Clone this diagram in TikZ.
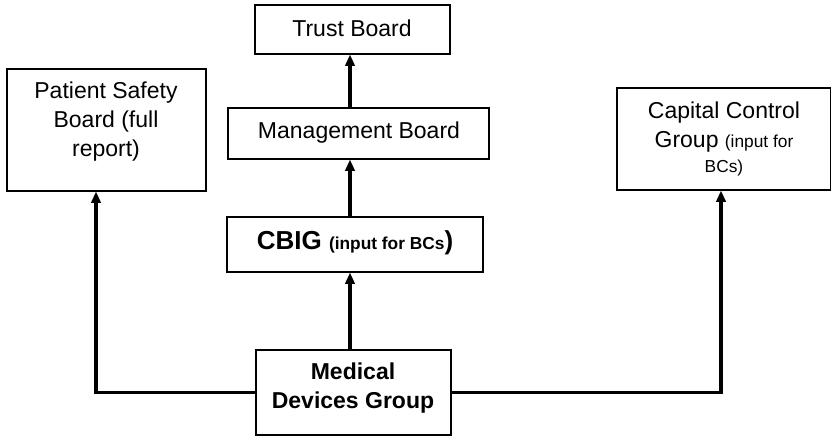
\documentclass[tikz,border=0pt]{standalone}
\usepackage{fontspec}
\setmainfont{Liberation Sans}
\usetikzlibrary{arrows.meta,fit}
\begin{document}
\begin{tikzpicture}[x=0.75pt,y=-0.75pt,
  box/.style={draw, line width=0.8pt, inner sep=0pt},
  link/.style={line width=2.5pt},
  arr/.style={link, -{Triangle[length=8.5pt,width=7pt]}},
  txt/.style={align=center, inner sep=0pt, font=\fontsize{17.25}{21.5}\selectfont}]
\useasboundingbox (0,0) rectangle (832,436);

% boxes
\node[box, fit={(255,5) (450,54)}] (trust) {};
\node[box, fit={(228,108) (489,159)}] (mgmt) {};
\node[box, fit={(227,217) (483,272)}] (cbig) {};
\node[box, fit={(256,350) (451,435)}] (mdg) {};
\node[box, fit={(7,69) (206,191)}] (psb) {};
\node[box, fit={(617,88) (830.5,190)}] (ccg) {};

% labels
\node[txt] (trustlbl) at (352,28) {Trust Board};
\node[txt] (mgmtlbl) at (359,133) {Management Board};
\node[txt] (cbiglbl) at (355,243)
  {\bfseries\fontsize{19.5}{22}\selectfont CBIG {\fontsize{13}{15}\selectfont (input for BCs})};
\node[txt] (psblbl) at (106,121.5) {Patient Safety\\Board (full\\report)};
\node[txt] (ccglbl) at (724,139)
  {Capital Control\\Group {\fontsize{13}{15}\selectfont (input for}\\[-3pt]{\fontsize{13}{15}\selectfont BCs)}};
\node[txt, font=\bfseries\fontsize{17.25}{21.5}\selectfont] (mdglbl) at (353,388)
  {Medical\\Devices Group};

% connector columns
\coordinate (spine) at (350,0);
\coordinate (leftcol) at (96,0);
\coordinate (rightcol) at (721,0);

% connectors
\draw[arr] (mdg.north -| spine) -- (cbig.south -| spine);
\draw[arr] (cbig.north -| spine) -- (mgmt.south -| spine);
\draw[arr] (mgmt.north -| spine) -- (trust.south -| spine);
\draw[arr] (mdg.west) -| (psb.south -| leftcol);
\draw[arr] (mdg.east) -| (ccg.south -| rightcol);
\end{tikzpicture}
\end{document}
